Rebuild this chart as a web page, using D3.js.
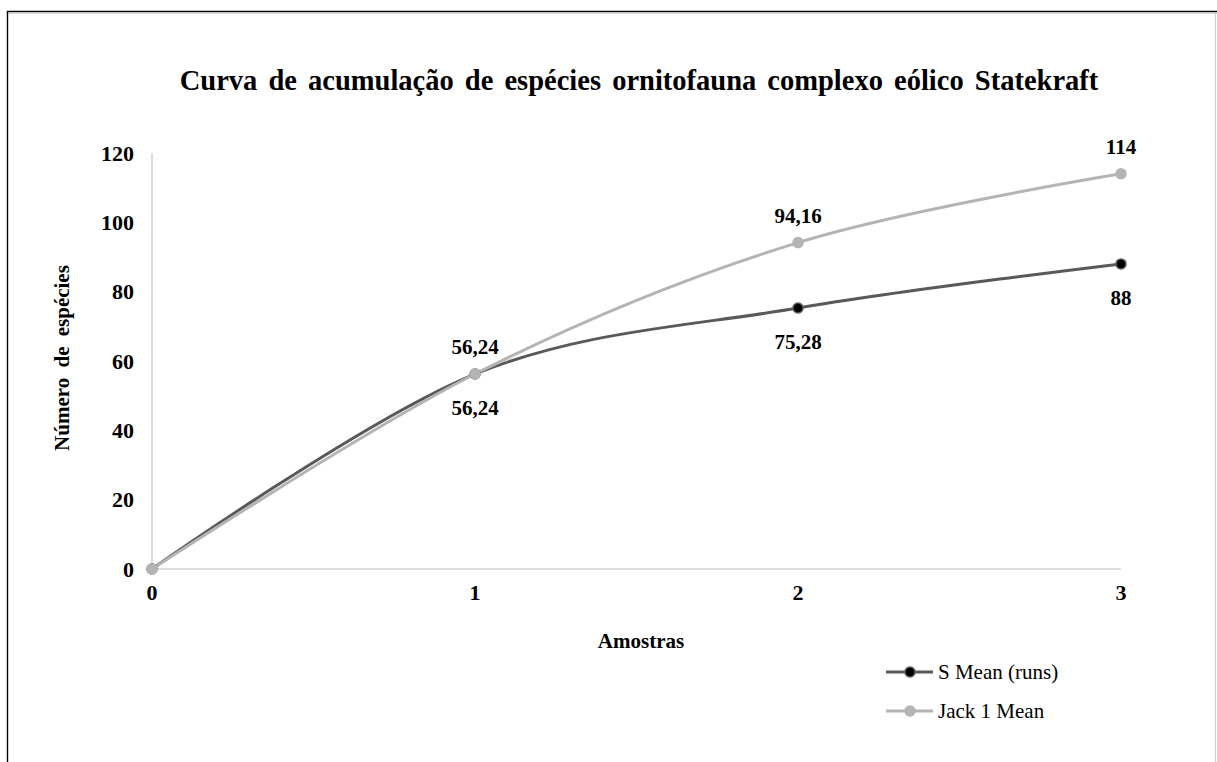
<!DOCTYPE html>
<html>
<head>
<meta charset="utf-8">
<script src="https://cdn.jsdelivr.net/npm/d3@7"></script>
<style>
  body { margin: 0; background: #fff; }
  svg { display: block; font-family: 'Liberation Serif', 'Times New Roman', serif; }
</style>
</head>
<body>
<div id="chart"></div>
<script>
const samples = [0, 1, 2, 3]
const sMean = [0, 56.24, 75.28, 88]
const jack1 = [0, 56.24, 94.16, 114]
const yTicks = [0, 20, 40, 60, 80, 100, 120]
const seriesNames = ['S Mean (runs)', 'Jack 1 Mean']

const width = 1217
const height = 762
const margin = { top: 153, right: 96, bottom: 193, left: 152 }

const svg = d3.select('#chart').append('svg')
  .attr('width', width)
  .attr('height', height)

// frame
svg.append('line').attr('x1', 7).attr('x2', 1217).attr('y1', 11.5).attr('y2', 11.5)
  .attr('stroke', '#000').attr('stroke-width', 1.6)
svg.append('line').attr('x1', 8).attr('x2', 1217).attr('y1', 13.5).attr('y2', 13.5)
  .attr('stroke', '#d9d9d9').attr('stroke-width', 1.2)
svg.append('line').attr('x1', 7.5).attr('x2', 7.5).attr('y1', 11).attr('y2', height)
  .attr('stroke', '#000').attr('stroke-width', 1.4)
svg.append('line').attr('x1', 1215.5).attr('x2', 1215.5).attr('y1', 13).attr('y2', height)
  .attr('stroke', '#cfcfcf').attr('stroke-width', 1.2)

const x = d3.scaleLinear()
  .domain([0, 3])
  .range([margin.left, width - margin.right])

const y = d3.scaleLinear()
  .domain([0, 120])
  .range([height - margin.bottom, margin.top])

// axis lines
svg.append('line')
  .attr('x1', x(0)).attr('x2', x(0)).attr('y1', y(120)).attr('y2', y(0))
  .attr('stroke', '#d0d0d0').attr('stroke-width', 1.5)
svg.append('line')
  .attr('x1', x(0)).attr('x2', x(3)).attr('y1', y(0)).attr('y2', y(0))
  .attr('stroke', '#d0d0d0').attr('stroke-width', 1.5)

// tick labels
svg.append('g').selectAll('text')
  .data(yTicks)
  .join('text')
  .attr('x', 134)
  .attr('y', d => y(d))
  .attr('dy', '0.35em')
  .attr('text-anchor', 'end')
  .attr('font-weight', 'bold')
  .attr('font-size', 22)
  .text(d => d)

svg.append('g').selectAll('text')
  .data(samples)
  .join('text')
  .attr('x', d => x(d))
  .attr('y', y(0) + 23)
  .attr('dy', '0.35em')
  .attr('text-anchor', 'middle')
  .attr('font-weight', 'bold')
  .attr('font-size', 22)
  .text(d => d)

// titles
svg.append('text')
  .attr('x', 639)
  .attr('y', 80)
  .attr('dy', '0.35em')
  .attr('text-anchor', 'middle')
  .attr('font-weight', 'bold')
  .attr('font-size', 28.5)
  .attr('word-spacing', 4)
  .text('Curva de acumulação de espécies ornitofauna complexo eólico Statekraft')

svg.append('text')
  .attr('x', 641)
  .attr('y', 641)
  .attr('dy', '0.35em')
  .attr('text-anchor', 'middle')
  .attr('font-weight', 'bold')
  .attr('font-size', 21)
  .text('Amostras')

svg.append('text')
  .attr('transform', 'translate(62, 358) rotate(-90)')
  .attr('dy', '0.35em')
  .attr('text-anchor', 'middle')
  .attr('font-weight', 'bold')
  .attr('font-size', 21)
  .attr('word-spacing', 5)
  .text('Número de espécies')

const series = [
  { name: seriesNames[0], values: sMean, line: '#595959', fill: '#000', stroke: '#595959', labelDy: 34 },
  { name: seriesNames[1], values: jack1, line: '#b4b4b4', fill: '#b4b4b4', stroke: '#b4b4b4', labelDy: -27 }
]

const lineGen = d3.line()
  .x((d, i) => x(samples[i]))
  .y(d => y(d))
  .curve(d3.curveCardinal.tension(0))

const fmt = v => String(v).replace('.', ',')

series.forEach(s => {
  svg.append('path')
    .datum(s.values)
    .attr('fill', 'none')
    .attr('stroke', s.line)
    .attr('stroke-width', 3)
    .attr('d', lineGen)
})

series.forEach(s => {
  svg.append('g').selectAll('circle')
    .data(s.values)
    .join('circle')
    .attr('cx', (d, i) => x(samples[i]))
    .attr('cy', d => y(d))
    .attr('r', 5)
    .attr('fill', s.fill)
    .attr('stroke', s.stroke)
    .attr('stroke-width', 1.5)

  svg.append('g').selectAll('text')
    .data(s.values.filter((d, i) => i > 0))
    .join('text')
    .attr('x', (d, i) => x(samples[i + 1]))
    .attr('y', d => y(d) + s.labelDy)
    .attr('dy', '0.35em')
    .attr('text-anchor', 'middle')
    .attr('font-weight', 'bold')
    .attr('font-size', 21)
    .text(d => fmt(d))
})

// legend
const legend = svg.append('g')
series.forEach((s, i) => {
  const ly = 672 + i * 39
  legend.append('line')
    .attr('x1', 886).attr('x2', 933).attr('y1', ly).attr('y2', ly)
    .attr('stroke', s.line).attr('stroke-width', 3)
  legend.append('circle')
    .attr('cx', 910).attr('cy', ly).attr('r', 5)
    .attr('fill', s.fill).attr('stroke', s.stroke).attr('stroke-width', 1.5)
  legend.append('text')
    .attr('x', 938).attr('y', ly).attr('dy', '0.35em')
    .attr('font-size', 21)
    .text(s.name)
})
</script>
</body>
</html>
